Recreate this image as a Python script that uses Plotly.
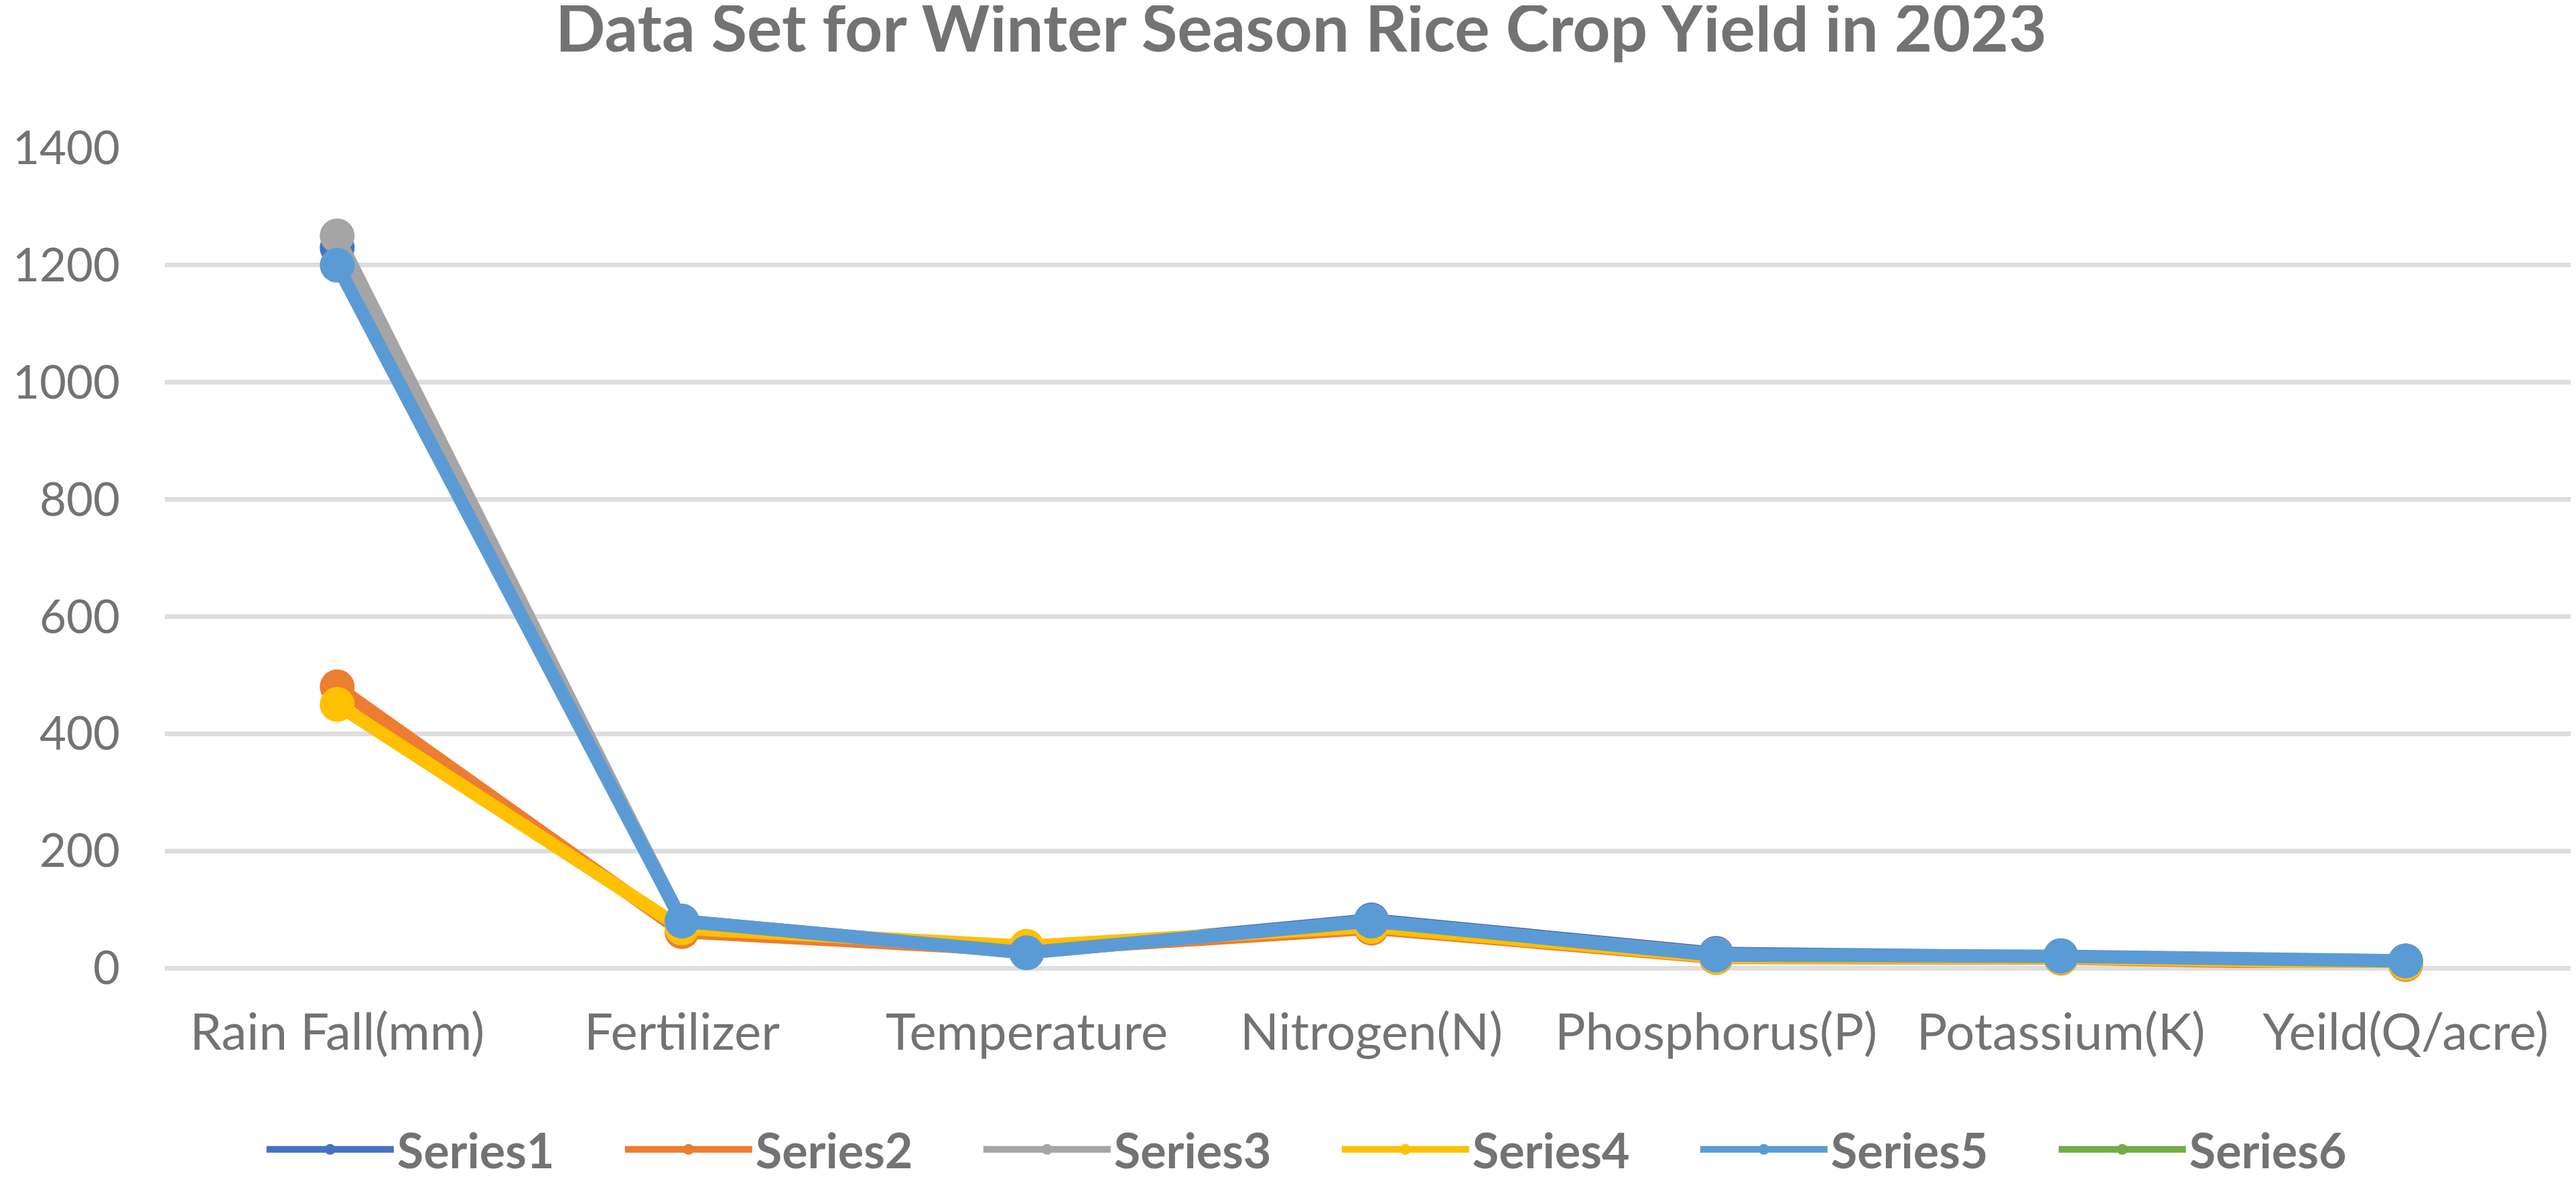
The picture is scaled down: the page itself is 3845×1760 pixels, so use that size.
import plotly.graph_objects as go

# categories along the x axis (spelling kept as in the source chart)
params = ['Rain Fall(mm)', 'Fertilizer', 'Temperature', 'Nitrogen(N)',
          'Phosphorus(P)', 'Potassium(K)', 'Yeild(Q/acre)']

series1 = [1230, 80, 27, 82, 25, 21, 12]
series2 = [480, 62, 30, 68, 18, 17, 6]
series3 = [1250, 78, 26, 80, 23, 20, 12]
series4 = [450, 68, 37, 71, 19, 18, 8]
series5 = [1200, 80, 26, 80, 22, 20, 12]
series6 = [None, None, None, None, None, None, None]  # no visible points

y_ticks = [0, 200, 400, 600, 800, 1000, 1200, 1400]

names = ['Series1', 'Series2', 'Series3', 'Series4', 'Series5', 'Series6']
values = [series1, series2, series3, series4, series5, series6]
colors = ['#4472C4', '#ED7D31', '#A5A5A5', '#FFC000', '#5B9BD5', '#70AD47']

W, H = 3845, 1760
grey = '#737373'
font = 'Lato'

data = []
for name, vals, col in zip(names, values, colors):
    data.append(go.Scatter(
        x=params, y=vals, name=name, mode='lines+markers',
        line=dict(color=col, width=20),
        marker=dict(color=col, size=52),
        cliponaxis=False,
    ))

layout = go.Layout(
    width=W, height=H,
    paper_bgcolor='white', plot_bgcolor='white',
    margin=dict(l=238, r=5, t=213, b=323),
    font=dict(family=font, color=grey, size=72),
    title=dict(text='<b>Data Set for Winter Season Rice Crop Yield in 2023</b>',
               x=0.503, xanchor='center', yref='container', y=1.0,
               yanchor='top', pad=dict(t=0, b=0),
               font=dict(family=font, size=98, color=grey)),
    xaxis=dict(type='category', range=[-0.5, 6.5], showgrid=False,
               showline=False, zeroline=False, ticks='', automargin=False,
               ticklabelstandoff=45,
               tickfont=dict(size=76, color=grey)),
    yaxis=dict(range=[0, 1400], tickvals=y_ticks, showgrid=True,
               gridcolor='#DEDEDE', gridwidth=7, zeroline=True,
               zerolinecolor='#DEDEDE', zerolinewidth=7, showline=False,
               ticks='', ticklabelstandoff=66, automargin=False,
               tickfont=dict(size=69, color=grey)),
    legend=dict(orientation='h', xref='container', x=0.5175, xanchor='center',
                yref='container', y=1 - 1708 / H, yanchor='middle',
                itemwidth=190, entrywidth=330, entrywidthmode='pixels',
                font=dict(family=font, size=72, color=grey, weight='bold')),
    showlegend=True,
)

fig = go.Figure(data=data, layout=layout)
fig.write_html('out.html')
